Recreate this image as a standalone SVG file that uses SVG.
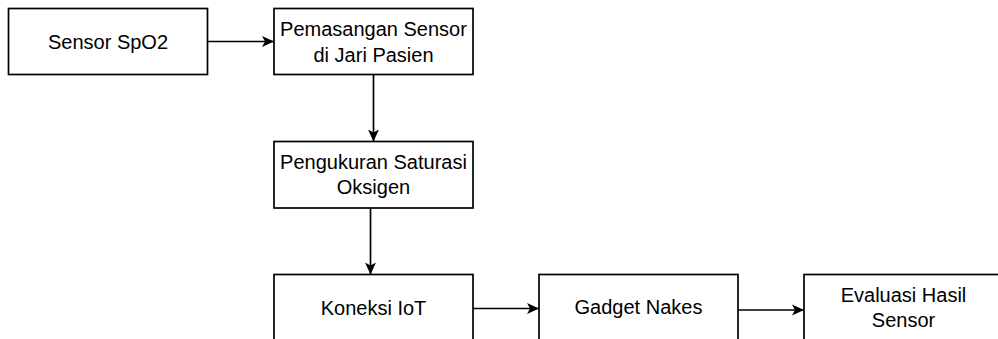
<svg xmlns="http://www.w3.org/2000/svg" width="998" height="339" viewBox="0 0 998 339">
  <defs>
    <style>
      .box { fill: #ffffff; stroke: #000000; stroke-width: 1.7; }
      .edge { fill: none; stroke: #000000; stroke-width: 1.7; }
      .lbl { font-family: "Liberation Sans", Arial, Helvetica, sans-serif; font-size: 20px; fill: #000000; text-anchor: middle; }
    </style>
    <marker id="arrow" viewBox="0 0 12 12" refX="12" refY="6" markerWidth="12" markerHeight="12" markerUnits="userSpaceOnUse" orient="auto">
      <path d="M0,0.5 L12,6 L0,11.5 L3,6 Z" fill="#000000"/>
    </marker>
  </defs>

  <rect width="998" height="339" fill="#ffffff"/>

  <!-- connectors -->
  <g id="connectors">
    <line class="edge" x1="207.5" y1="41.5" x2="274" y2="41.5" marker-end="url(#arrow)"/>
    <line class="edge" x1="373.5" y1="74.5" x2="373.5" y2="141.5" marker-end="url(#arrow)"/>
    <line class="edge" x1="370.5" y1="208" x2="370.5" y2="274.5" marker-end="url(#arrow)"/>
    <line class="edge" x1="473" y1="308.5" x2="539" y2="308.5" marker-end="url(#arrow)"/>
    <line class="edge" x1="738" y1="310" x2="804" y2="310" marker-end="url(#arrow)"/>
  </g>

  <g id="node-sensor-spo2">
    <rect class="box" x="8.5" y="8.5" width="199" height="66"/>
    <text class="lbl" x="108" y="48.5">Sensor SpO2</text>
  </g>

  <g id="node-pemasangan">
    <rect class="box" x="274" y="8.5" width="199" height="66"/>
    <text class="lbl" x="373.5" y="36">Pemasangan Sensor</text>
    <text class="lbl" x="373.5" y="61.5">di Jari Pasien</text>
  </g>

  <g id="node-pengukuran">
    <rect class="box" x="274" y="141.5" width="199" height="66.5"/>
    <text class="lbl" x="373.5" y="169">Pengukuran Saturasi</text>
    <text class="lbl" x="373.5" y="194">Oksigen</text>
  </g>

  <g id="node-koneksi-iot">
    <rect class="box" x="274" y="274.5" width="199" height="66"/>
    <text class="lbl" x="373.5" y="314.5">Koneksi IoT</text>
  </g>

  <g id="node-gadget-nakes">
    <rect class="box" x="539" y="274.5" width="199" height="66"/>
    <text class="lbl" x="638.5" y="314">Gadget Nakes</text>
  </g>

  <g id="node-evaluasi">
    <rect class="box" x="804" y="274.5" width="199" height="66"/>
    <text class="lbl" x="903.5" y="302">Evaluasi Hasil</text>
    <text class="lbl" x="903.5" y="326.5">Sensor</text>
  </g>
</svg>
